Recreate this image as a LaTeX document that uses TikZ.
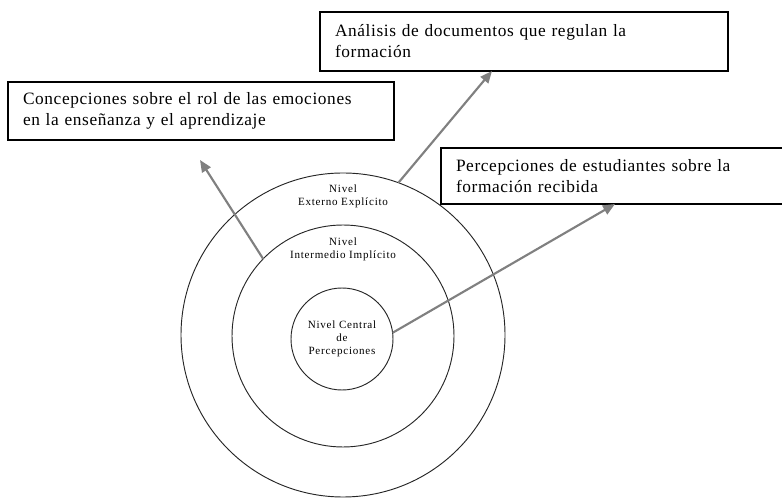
\documentclass[tikz,border=0pt]{standalone}
\usepackage{fontspec}
\setmainfont{Liberation Serif}
\newfontfamily\boxfont[LetterSpace=3.5]{Liberation Serif}
\newfontfamily\lvlfont[LetterSpace=7]{Liberation Serif}
\usetikzlibrary{arrows.meta}
\definecolor{arrowgray}{RGB}{128,128,128}
\begin{document}
\begin{tikzpicture}[x=0.75pt,y=-0.75pt,
  ring/.style={circle,draw=black!85,line width=0.7pt,inner sep=0pt,outer sep=0pt},
  box/.style={draw=black,line width=1.3pt,fill=white,inner xsep=11.25pt,inner ysep=0pt,outer sep=0pt,align=left,
    font=\boxfont\fontsize{13}{15.75}\selectfont},
  lvl/.style={align=center,inner sep=0pt,font=\lvlfont\fontsize{8.3}{9.75}\selectfont},
  conn/.style={draw=arrowgray,line width=1.6pt,-{Triangle[length=9pt,width=7.5pt]}}]
\useasboundingbox (0,0) rectangle (782,498);
% circles
\node[ring,minimum size=243pt] (outer) at (343,335) {};
\node[ring,minimum size=166.5pt] (middle) at (343,336) {};
\node[ring,minimum size=76.5pt,lvl] (inner) at (342,339) {Nivel Central\\de\\Percepciones};
\node[lvl] (lblouter) at (343,196) {Nivel\\Externo Explícito};
\node[lvl] (lblmiddle) at (343,249) {Nivel\\Intermedio Implícito};
% boxes
\node[box,minimum width=306pt,minimum height=44.25pt,text width=283.5pt] (b1) at (524,41.5)
  {Análisis de documentos que regulan la\\formación};
\node[box,minimum width=289.5pt,minimum height=43.5pt,text width=267pt] (b2) at (201,111)
  {Concepciones sobre el rol de las emociones\\en la enseñanza y el aprendizaje};
\node[box,minimum width=270pt,minimum height=42pt,text width=247.5pt] (b3) at (621,176)
  {Percepciones de estudiantes sobre la\\formación recibida};
% arrows
\coordinate (tip2) at (200,160);
\draw[conn] (outer.70) -- (b1.south -| 492,0);
\draw[conn] (middle.136.5) -- (tip2);
\draw[conn] (inner.7) -- (b3.south -| 615,0);
\end{tikzpicture}
\end{document}
